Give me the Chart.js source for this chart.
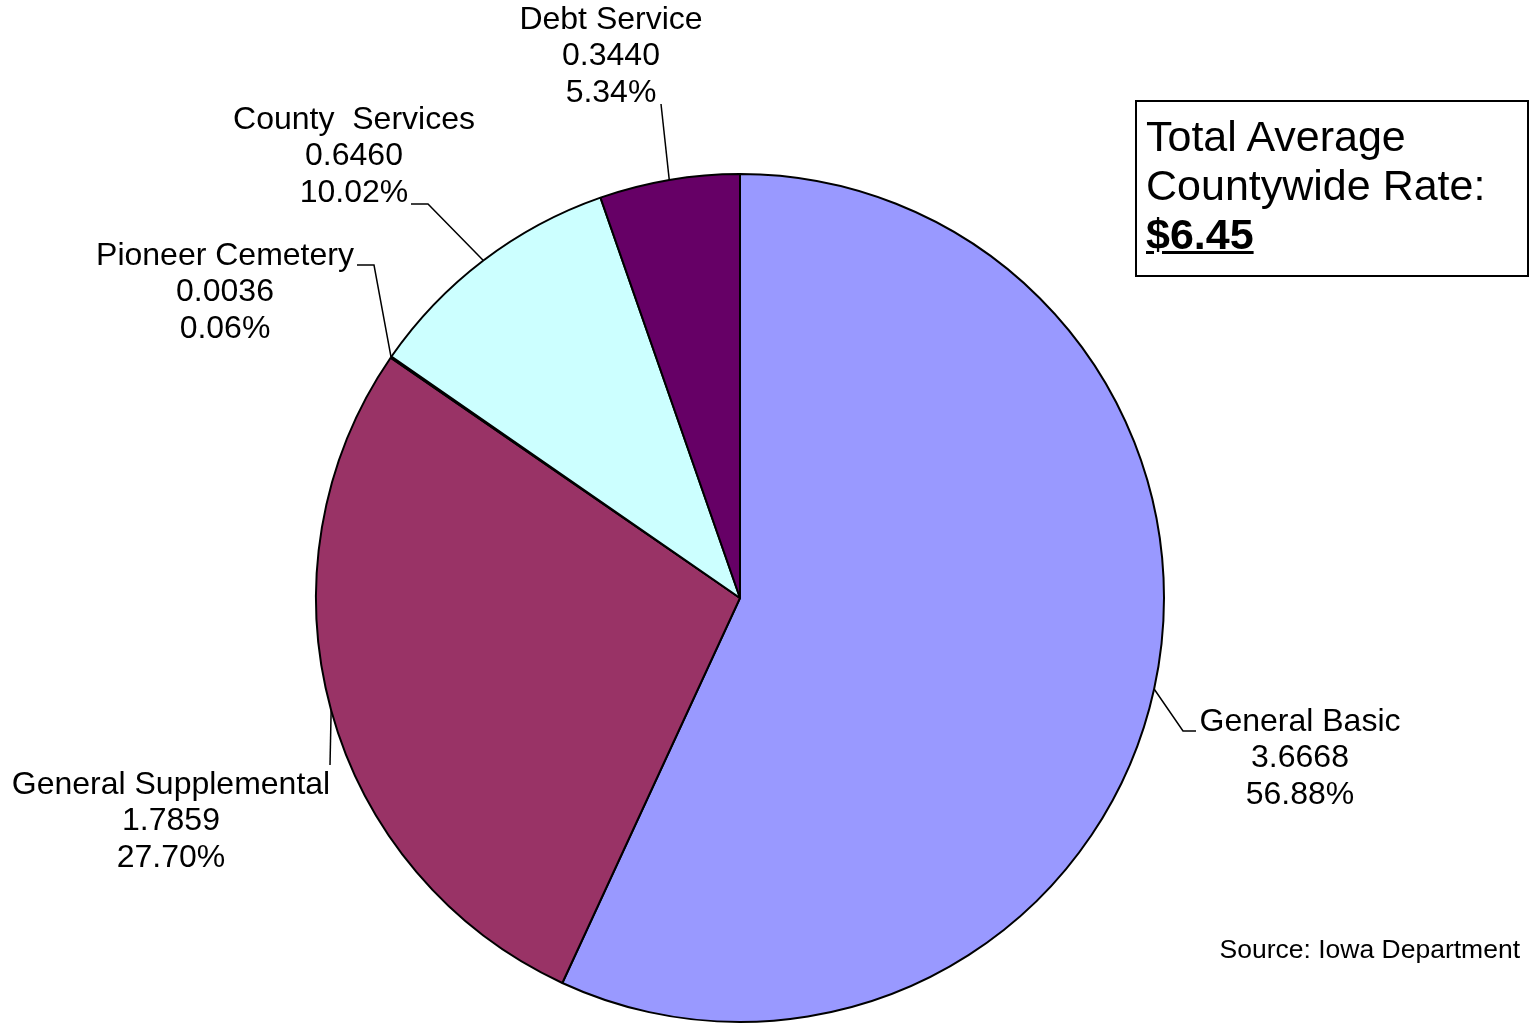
<!DOCTYPE html>
<html>
<head>
<meta charset="utf-8">
<script src="https://cdn.jsdelivr.net/npm/chart.js@4.4.1/dist/chart.umd.min.js"></script>
<style>
  html, body { margin: 0; padding: 0; background: #fff; }
  #wrap { position: relative; width: 1529px; height: 1024px; }
  #rateBox {
    position: absolute; left: 1135px; top: 100px; width: 394px; height: 177px;
    border: 2px solid #000; box-sizing: border-box;
    font-family: "Liberation Sans", Arial, sans-serif; font-size: 43px; line-height: 49px;
    padding: 10px 0 0 9px; color: #000;
  }
  #rateBox b { text-decoration: underline; text-decoration-thickness: 3px; }
  #source {
    position: absolute; right: 9px; top: 934px;
    font-family: "Liberation Sans", Arial, sans-serif; font-size: 26.5px; color: #000;
  }
</style>
</head>
<body>
<div id="wrap">
  <canvas id="pieChart" width="1529" height="1024"></canvas>
  <div id="rateBox">Total Average<br>Countywide Rate:<br><b>$6.45</b></div>
  <div id="source">Source: Iowa Department</div>
</div>
<script>
const categories = ["General Basic", "General Supplemental", "Pioneer Cemetery", "County  Services", "Debt Service"];
const rates = [3.6668, 1.7859, 0.0036, 0.6460, 0.3440];
const percents = ["56.88%", "27.70%", "0.06%", "10.02%", "5.34%"];
const sliceColors = ["#9999FF", "#993366", "#FFFFCC", "#CCFFFF", "#660066"];

// label placement: text centre x, first line y, leader bend points
const labelLayout = [
  { x: 1300, y: 722, leader: [[1183, 731], [1196, 731]] },
  { x: 171, y: 785, leader: [[330, 765]] },
  { x: 225, y: 256, leader: [[374, 265], [357, 265]] },
  { x: 354, y: 120, leader: [[428, 204], [411, 204]] },
  { x: 611, y: 20, leader: [[661, 104]] }
];

const leaderLabels = {
  id: "leaderLabels",
  afterDatasetsDraw(chart) {
    const ctx = chart.ctx;
    const arcs = chart.getDatasetMeta(0).data;
    ctx.save();
    ctx.strokeStyle = "#000";
    ctx.lineWidth = 1.5;
    ctx.fillStyle = "#000";
    ctx.font = '32px "Liberation Sans", Arial, sans-serif';
    ctx.textAlign = "center";
    ctx.textBaseline = "middle";
    arcs.forEach((arc, i) => {
      const { x, y, startAngle, endAngle, outerRadius } = arc.getProps(["x", "y", "startAngle", "endAngle", "outerRadius"], true);
      const mid = (startAngle + endAngle) / 2;
      const lay = labelLayout[i];
      ctx.beginPath();
      ctx.moveTo(x + Math.cos(mid) * outerRadius, y + Math.sin(mid) * outerRadius);
      lay.leader.forEach(p => ctx.lineTo(p[0], p[1]));
      ctx.stroke();
      const lines = [categories[i], rates[i].toFixed(4), percents[i]];
      lines.forEach((t, k) => ctx.fillText(t, lay.x, lay.y + k * 36.5));
    });
    ctx.restore();
  }
};

new Chart(document.getElementById("pieChart"), {
  type: "pie",
  data: {
    labels: categories,
    datasets: [{
      data: rates,
      backgroundColor: sliceColors,
      borderColor: "#000",
      borderWidth: 2
    }]
  },
  options: {
    responsive: false,
    animation: false,
    rotation: 0,
    layout: { padding: { left: 315, right: 364, top: 173, bottom: 1 } },
    plugins: {
      legend: { display: false },
      tooltip: { enabled: false }
    }
  },
  plugins: [leaderLabels]
});
</script>
</body>
</html>
